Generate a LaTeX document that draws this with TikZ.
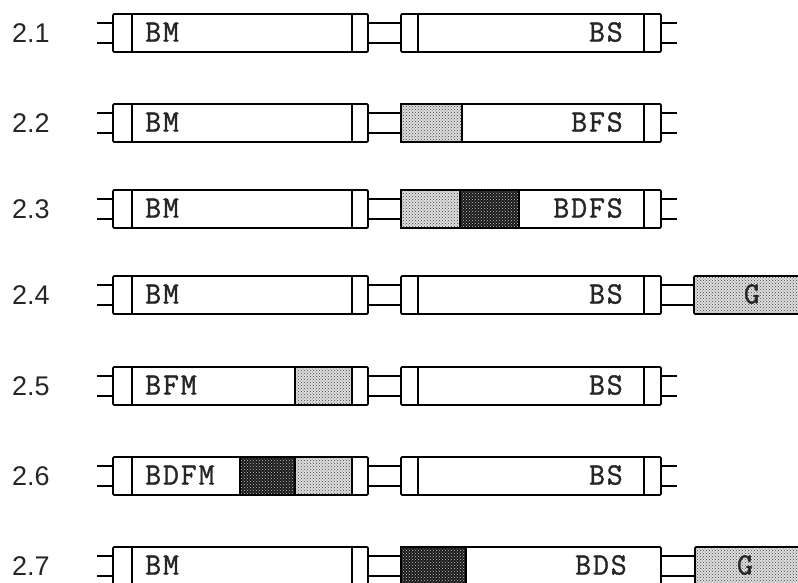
\documentclass[tikz,border=0pt]{standalone}
\usepackage{fontspec}
\setmainfont{Liberation Sans}
\newfontfamily\typew[LetterSpace=6,FakeBold=1.2]{Latin Modern Mono}
\usetikzlibrary{patterns}
\begin{document}
\begin{tikzpicture}[x=1pt,y=-1pt,
 box/.style={draw, line width=1.8pt, rounded corners=1.2pt, minimum height=38pt, inner sep=0pt, outer sep=0pt},
 mbox/.style={box, minimum width=255pt},
 sbox/.style={box, minimum width=260pt},
 gbox/.style={box, minimum width=130pt},
 wire/.style={line width=1.7pt},
 divider/.style={line width=1.8pt},
 lite/.style={draw, line width=1.8pt, preaction={fill=gray!25}, pattern=crosshatch dots, pattern color=black!75},
 dark/.style={draw, line width=1.8pt, preaction={fill=black!90}, pattern=crosshatch dots, pattern color=gray!45},
 num/.style={anchor=base west, font=\fontsize{27}{27}\selectfont, inner sep=0pt, text=black!85},
 tagl/.style={anchor=base west, font=\typew\fontsize{31}{31}\selectfont, inner sep=0pt, text=black!85},
 tagr/.style={anchor=base east, font=\typew\fontsize{31}{31}\selectfont, inner sep=0pt, text=black!85},
 tagc/.style={anchor=base, font=\typew\fontsize{31}{31}\selectfont, inner sep=0pt, text=black!85},
]
\useasboundingbox (0,0) rectangle (798,582);
\clip (0,0) rectangle (798,582);

% common structure of every row
\foreach \i/\y in {1/33,2/123,3/209,4/295,5/386,6/476,7/566}{
  \node[mbox] (m\i) at (240.5,\y) {};
  \node[sbox] (s\i) at (531,\y) {};
  \node[num] (n\i) at (12,\y+9) {2.\i};
  \draw[divider] ([xshift=19pt]m\i.north west) -- ([xshift=19pt]m\i.south west);
  \draw[divider] ([xshift=-16pt]m\i.north east) -- ([xshift=-16pt]m\i.south east);
  \foreach \d in {10pt,-10pt}{
    \draw[wire] ([yshift=\d]m\i.west) -- ++(-16,0);
    \draw[wire] ([yshift=\d]m\i.east) -- ([yshift=\d]s\i.west);
  }
}

% left dividers of the second box
\foreach \i in {1,4,5,6}{
  \draw[divider] ([xshift=17pt]s\i.north west) -- ([xshift=17pt]s\i.south west);
}
% right dividers of the second box
\foreach \i in {1,2,3,4,5,6}{
  \draw[divider] ([xshift=-17pt]s\i.north east) -- ([xshift=-17pt]s\i.south east);
}
% right stubs
\foreach \i in {1,2,3,5,6}{
  \foreach \d in {10pt,-10pt}{
    \draw[wire] ([yshift=\d]s\i.east) -- ++(16,0);
  }
}

% shaded segments
\draw[lite] (s2.north west) rectangle ([xshift=61pt]s2.south west);
\draw[lite] (s3.north west) rectangle ([xshift=59pt]s3.south west);
\draw[dark] ([xshift=59pt]s3.north west) rectangle ([xshift=118pt]s3.south west);
\draw[lite] ([xshift=-73pt]m5.north east) rectangle ([xshift=-16pt]m5.south east);
\draw[dark] ([xshift=-128pt]m6.north east) rectangle ([xshift=-73pt]m6.south east);
\draw[lite] ([xshift=-73pt]m6.north east) rectangle ([xshift=-16pt]m6.south east);
\draw[dark] (s7.north west) rectangle ([xshift=65pt]s7.south west);

% G boxes
\node[gbox, lite] (g4) at (759,295) {};
\node[gbox, lite] (g7) at (760,566) {};
\foreach \d in {10pt,-10pt}{
  \draw[wire] ([yshift=\d]s4.east) -- ([yshift=\d]g4.west);
  \draw[wire] ([yshift=\d]s7.east) -- ([yshift=\d]g7.west);
}

% labels of the first box
\foreach \i/\t in {1/BM,2/BM,3/BM,4/BM,5/BFM,6/BDFM,7/BM}{
  \node[tagl] (lm\i) at ([xshift=32pt,yshift=-8.5pt]m\i.west) {\t};
}
% labels of the second box
\foreach \i/\t in {1/BS,2/BFS,3/BDFS,4/BS,5/BS,6/BS}{
  \node[tagr] (ls\i) at ([xshift=-38pt,yshift=-8.5pt]s\i.east) {\t};
}
\node[tagr] (ls7) at ([xshift=-34pt,yshift=-8.5pt]s7.east) {BDS};
\node[tagc] (lg4) at ([xshift=-7pt,yshift=-8.5pt]g4.center) {G};
\node[tagc] (lg7) at ([xshift=-15pt,yshift=-8.5pt]g7.center) {G};
\end{tikzpicture}
\end{document}
